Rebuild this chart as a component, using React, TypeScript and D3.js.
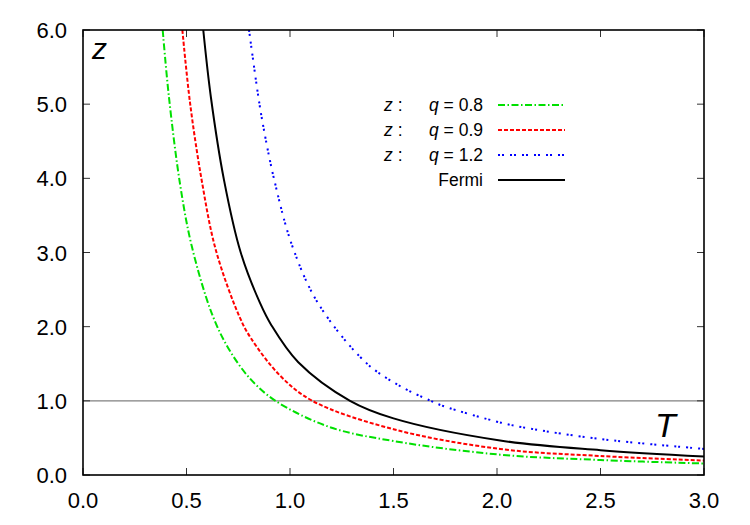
import React from "react";
import * as d3 from "d3";

// Fugacity z versus temperature T for several values of q, and the Fermi case
const q08T = [0.385, 0.415, 0.469, 0.525, 0.622, 0.702, 0.807, 0.93, 1.193, 1.5, 2.015, 2.5, 3.0];
const q08Z = [6.0, 5.1, 3.92, 3.09, 2.18, 1.71, 1.3, 1.0, 0.645, 0.458, 0.274, 0.202, 0.155];

const q09T = [0.48, 0.517, 0.573, 0.642, 0.755, 0.81, 0.952, 1.108, 1.5, 2.015, 2.5, 3.0];
const q09Z = [6.0, 5.02, 3.98, 3.03, 2.14, 1.85, 1.34, 1.0, 0.617, 0.351, 0.256, 0.195];

const q12T = [0.802, 0.847, 0.871, 0.923, 1.012, 1.137, 1.367, 1.531, 1.68, 1.74, 2.02, 2.151, 2.5, 3.0];
const q12Z = [6.0, 5.1, 4.7, 3.99, 3.08, 2.31, 1.515, 1.2, 1.0, 0.93, 0.705, 0.63, 0.485, 0.352];

const fermiT = [0.581, 0.618, 0.681, 0.762, 0.855, 0.91, 1.04, 1.29, 1.5, 2.015, 2.5, 3.0];
const fermiZ = [6.0, 5.09, 3.98, 3.0, 2.32, 2.02, 1.52, 1.0, 0.763, 0.465, 0.335, 0.25];

const xTicks = [0, 0.5, 1.0, 1.5, 2.0, 2.5, 3.0];
const yTicks = [0, 1, 2, 3, 4, 5, 6];

const seriesLabels = ["0.8", "0.9", "1.2"];

const W = 750;
const H = 525;
const left = 83;
const right = 704;
const top = 30;
const bottom = 475;

const FONT = "'Liberation Sans', Arial, Helvetica, sans-serif";

export default function App() {
  const x = d3.scaleLinear().domain([0, 3]).range([left, right]);
  const y = d3.scaleLinear().domain([0, 6]).range([bottom, top]);

  const line = d3
    .line<[number, number]>()
    .x((d) => x(d[0]))
    .y((d) => y(d[1]))
    .curve(d3.curveCatmullRom.alpha(0.5));

  const zip = (t: number[], z: number[]) => t.map((v, i) => [v, z[i]] as [number, number]);

  const series = [
    { data: zip(q08T, q08Z), color: "#00e000", dash: "7 2.5 1.5 2.5", width: 2 },
    { data: zip(q09T, q09Z), color: "#ff0000", dash: "4 2", width: 2 },
    { data: zip(q12T, q12Z), color: "#0000ff", dash: "2 2 2 6", width: 2 },
    { data: zip(fermiT, fermiZ), color: "#000000", dash: "none", width: 2 },
  ];

  const legendRows = [105, 130, 155, 180];
  const tickLen = 7;

  return (
    <svg
      width={W}
      height={H}
      style={{ position: "absolute", left: 0, top: 0, background: "#fff" }}
      fontFamily={FONT}
    >
      <defs>
        <clipPath id="plot-clip">
          <rect x={left} y={top} width={right - left} height={bottom - top} />
        </clipPath>
      </defs>
      <rect x={0} y={0} width={W} height={H} fill="#fff" />

      {/* reference line z = 1 */}
      <line x1={left} x2={right} y1={y(1)} y2={y(1)} stroke="#808080" strokeWidth={1.2} />

      {/* ticks on all four sides, pointing inward */}
      {xTicks.map((t) => (
        <g key={"xt" + t}>
          <line x1={x(t)} x2={x(t)} y1={bottom} y2={bottom - tickLen} stroke="#333" strokeWidth={1} />
          <line x1={x(t)} x2={x(t)} y1={top} y2={top + tickLen} stroke="#333" strokeWidth={1} />
          <text x={x(t)} y={508} textAnchor="middle" fontSize={22} fill="#000">
            {t.toFixed(1)}
          </text>
        </g>
      ))}
      {yTicks.map((v) => (
        <g key={"yt" + v}>
          <line x1={left} x2={left + tickLen} y1={y(v)} y2={y(v)} stroke="#333" strokeWidth={1} />
          <line x1={right} x2={right - tickLen} y1={y(v)} y2={y(v)} stroke="#333" strokeWidth={1} />
          <text x={67} y={y(v) + 8} textAnchor="end" fontSize={22} fill="#000">
            {v.toFixed(1)}
          </text>
        </g>
      ))}

      {/* curves */}
      <g clipPath="url(#plot-clip)">
        {series.map((s, i) => (
          <path
            key={i}
            d={line(s.data) || ""}
            fill="none"
            stroke={s.color}
            strokeWidth={s.width}
            strokeDasharray={s.dash}
          />
        ))}
      </g>

      {/* frame */}
      <rect x={left} y={top} width={right - left} height={bottom - top} fill="none" stroke="#000" strokeWidth={1.6} />

      {/* axis labels */}
      <text x={92} y={59} fontSize={30} fontStyle="italic" fill="#000">
        z
      </text>
      <text x={655} y={437} fontSize={34} fontStyle="italic" fill="#000">
        T
      </text>

      {/* legend */}
      {seriesLabels.map((lab, i) => (
        <g key={"lg" + i}>
          <text x={384} y={legendRows[i] + 6} fontSize={17.5} fill="#000">
            <tspan fontStyle="italic">z</tspan>
            <tspan dx={5}>:</tspan>
          </text>
          <text x={483} y={legendRows[i] + 6} fontSize={17.5} textAnchor="end" fill="#000">
            <tspan fontStyle="italic">q</tspan>
            <tspan>{" = " + lab}</tspan>
          </text>
        </g>
      ))}
      <text x={483} y={legendRows[3] + 6} fontSize={17.5} textAnchor="end" fill="#000">
        Fermi
      </text>
      {series.map((s, i) => (
        <line
          key={"ll" + i}
          x1={498}
          x2={565}
          y1={legendRows[i]}
          y2={legendRows[i]}
          stroke={s.color}
          strokeWidth={s.width}
          strokeDasharray={s.dash}
        />
      ))}
    </svg>
  );
}
